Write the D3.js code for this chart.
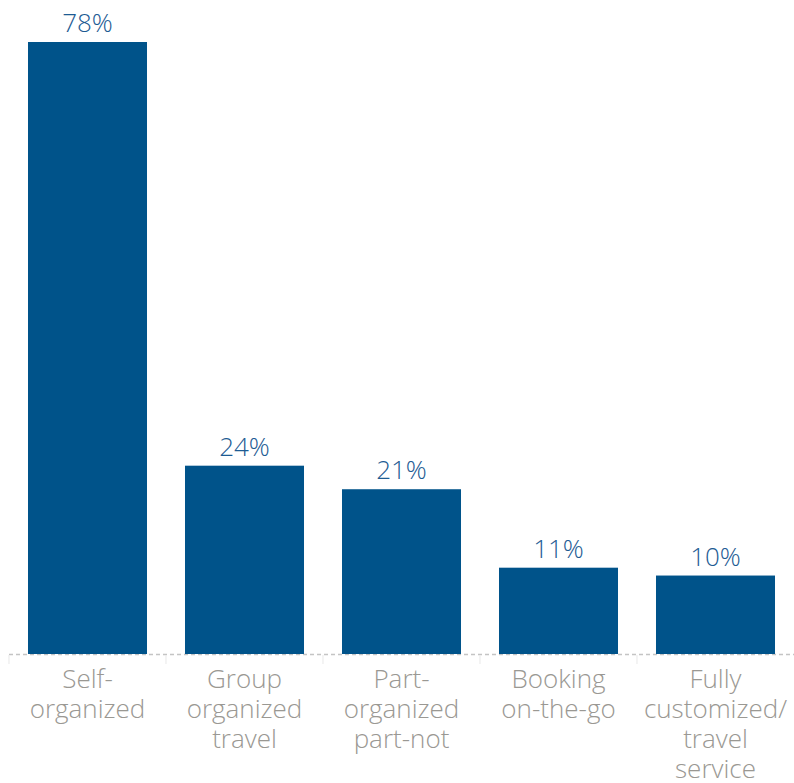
<!DOCTYPE html>
<html><head><meta charset="utf-8">
<script src="https://cdn.jsdelivr.net/npm/d3@7"></script>
<style>body{margin:0;background:#fff}svg{display:block}</style>
</head><body>
<script>
const categories = ["Self-\norganized","Group\norganized\ntravel","Part-\norganized\npart-not","Booking\non-the-go","Fully\ncustomized/\ntravel\nservice"];
const values = [78,24,21,11,10];
const labels = ["78%","24%","21%","11%","10%"];

const W=794,H=783;
const svg=d3.select("body").append("svg").attr("width",W).attr("height",H);
const x=d3.scaleBand().domain(d3.range(categories.length)).range([9,794]).paddingInner(0.242).paddingOuter(0.121);
const y=d3.scaleLinear().domain([0,78]).range([654,42]);

// axis
svg.append("line").attr("x1",9).attr("x2",794).attr("y1",654.5).attr("y2",654.5)
  .attr("stroke","#c4c4c4").attr("stroke-width",1.5).attr("stroke-dasharray","4,3");
const step=x.step();
d3.range(categories.length).forEach(i=>{
  const bx=9+i*step;
  svg.append("line").attr("x1",bx).attr("x2",bx).attr("y1",655).attr("y2",664).attr("stroke","#ececec").attr("stroke-width",1.2);
});

svg.selectAll("rect.bar").data(values).join("rect").attr("class","bar")
  .attr("x",(d,i)=>x(i)).attr("width",x.bandwidth())
  .attr("y",d=>y(d)).attr("height",d=>y(0)-y(d)).attr("fill","#00538a");

svg.selectAll("text.val").data(values).join("text").attr("class","val")
  .attr("x",(d,i)=>x(i)+x.bandwidth()/2).attr("y",d=>y(d)-10)
  .attr("text-anchor","middle").attr("font-family","'Open Sans', sans-serif").attr("font-weight",300)
  .attr("font-size",26).attr("fill","#1d5b93").text((d,i)=>labels[i]);

categories.forEach((c,i)=>{
  const t=svg.append("text").attr("text-anchor","middle")
    .attr("font-family","'Open Sans', sans-serif").attr("font-weight",300).attr("font-size",26).attr("fill","#9a9893");
  c.split("\n").forEach((line,j)=>{
    t.append("tspan").attr("x",x(i)+x.bandwidth()/2).attr("y",688+j*30).text(line);
  });
});
</script>
</body></html>
